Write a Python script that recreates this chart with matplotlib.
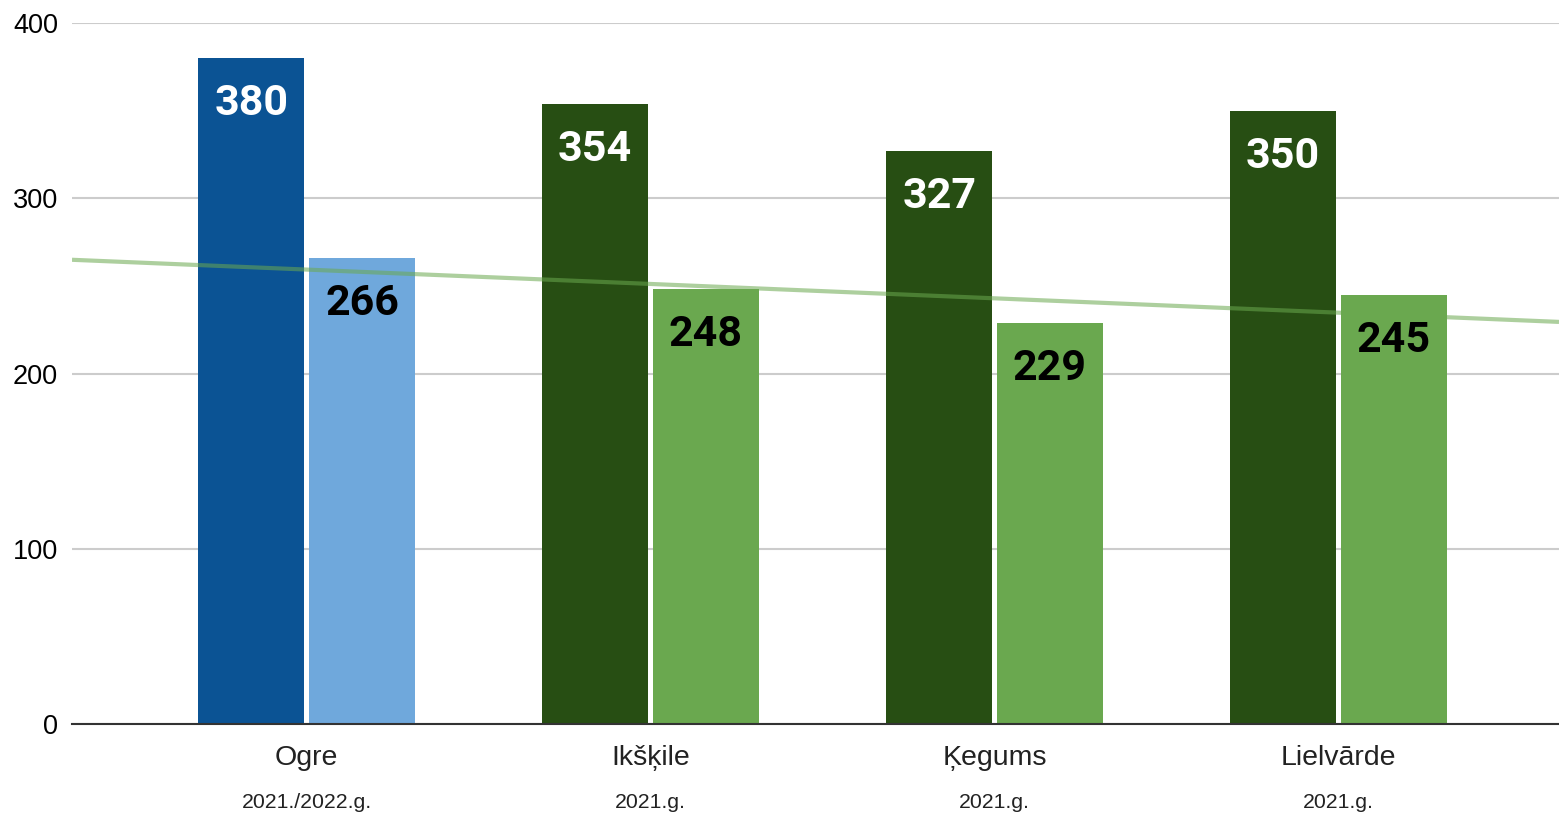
"""
Grouped bars per municipality with values inside the bars and a linear trend
over the second series.
"""

import numpy as np
import matplotlib.pyplot as plt

places = ["Ogre", "Ikšķile", "Ķegums", "Lielvārde"]
periods = ["2021./2022.g.", "2021.g.", "2021.g.", "2021.g."]
first_values = [380, 354, 327, 350]
second_values = [266, 248, 229, 245]

first_colors = ["#0b5394", "#274e13", "#274e13", "#274e13"]
second_colors = ["#6fa8dc", "#6aa84f", "#6aa84f", "#6aa84f"]


def main():

    fig = plt.figure(figsize=(15.59, 8.14), dpi=100)
    ax = fig.add_axes([72 / 1559, 90 / 814, 1487 / 1559, 701 / 814])

    x = np.arange(len(places))
    width = 0.308
    offset = 0.161

    ax.bar(x - offset, first_values, width, color=first_colors, zorder=2)
    ax.bar(x + offset, second_values, width, color=second_colors, zorder=2)

    xlim = (-0.682, 3.641)
    ax.set_xlim(*xlim)
    ax.set_ylim(0, 400)

    # Linear trend fitted to the second series, drawn across the whole plot
    k, c = np.polyfit(x, second_values, 1)
    xt = np.array(xlim)
    ax.plot(xt, k * xt + c, color="#6aa84f", alpha=0.55, lw=3, zorder=3,
            solid_capstyle="butt")

    label_font = dict(family="Roboto", weight="bold", size=31)
    for xi, v in zip(x, first_values):
        ax.annotate(str(v), (xi - offset, v), xytext=(0, -41),
                    textcoords="offset points", ha="center", va="baseline",
                    color="white", zorder=4, **label_font)
    for xi, v in zip(x, second_values):
        ax.annotate(str(v), (xi + offset, v), xytext=(0, -41),
                    textcoords="offset points", ha="center", va="baseline",
                    color="black", zorder=4, **label_font)

    ax.set_yticks([0, 100, 200, 300, 400])
    ax.tick_params(axis="y", length=0, pad=10, labelsize=19.5)
    for t in ax.get_yticklabels():
        t.set_family("Liberation Sans")
    ax.yaxis.grid(True, color="#cccccc", lw=1.5, zorder=0)
    ax.set_axisbelow(True)

    ax.set_xticks([])
    trans = ax.get_xaxis_transform()
    for xi, name, per in zip(x, places, periods):
        ax.text(xi, -0.049, name, transform=trans, ha="center", va="center",
                fontsize=20.5, family="Liberation Sans", color="#222222")
        ax.text(xi, -0.112, per, transform=trans, ha="center", va="center",
                fontsize=15.3, family="Liberation Sans", color="#222222")

    for s in ["top", "right", "left"]:
        ax.spines[s].set_visible(False)
    ax.spines["bottom"].set_color("#333333")
    ax.spines["bottom"].set_linewidth(1.5)
    ax.spines["bottom"].set_zorder(5)

    fig.savefig("out.png", dpi=100)


if __name__ == "__main__":

    main()
